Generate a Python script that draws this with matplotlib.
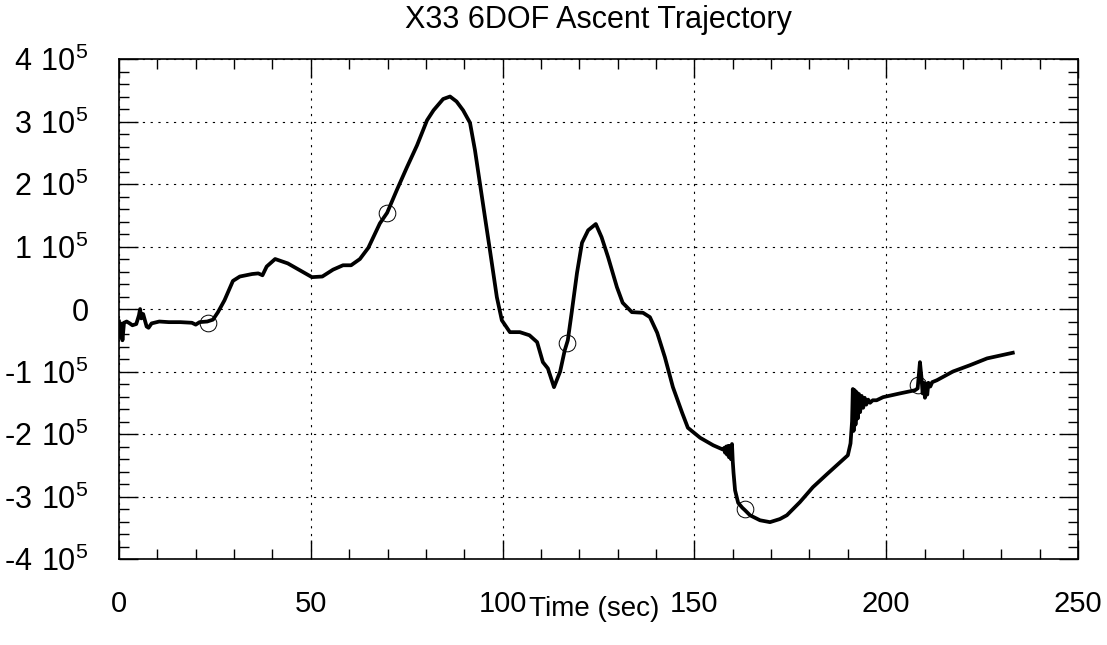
"""
X33 6DOF ascent trajectory, redrawn from a scanned plot.
"""

import numpy as np
import matplotlib
matplotlib.use('Agg')
import matplotlib.pyplot as plt
from matplotlib.ticker import MultipleLocator

plt.rcParams['font.family'] = ['Liberation Sans', 'DejaVu Sans']
plt.rcParams['mathtext.fontset'] = 'custom'
plt.rcParams['mathtext.rm'] = 'Liberation Sans'

# trajectory (time in sec, value)
time_s = [
    0.0, 0.3, 0.6, 0.9, 1.3, 2.0, 2.8, 3.5, 4.5, 5.2, 5.5, 5.8, 6.3, 7.2, 7.7,
    8.5, 10.5, 13.0, 16.0, 19.0, 20.0, 21.0, 23.0, 24.5, 25.8, 27.5, 29.7,
    31.5, 34.7, 36.3, 37.4, 38.5, 40.7, 44.0, 47.7, 50.3, 53.0, 55.8, 58.4,
    60.5, 62.8, 65.0, 68.0, 69.9, 72.4, 75.0, 77.7, 80.3, 82.0, 84.5, 86.3,
    88.0, 89.7, 91.5, 92.8, 94.1, 95.4, 96.7, 98.5, 99.8, 101.9, 104.5, 107.0,
    109.0, 110.5, 111.8, 113.4, 115.0, 116.2, 117.0, 118.0, 119.4, 120.7,
    122.3, 124.3, 125.8, 127.5, 129.8, 131.3, 133.7, 136.6, 138.4, 140.3,
    142.3, 144.4, 146.8, 148.3, 151.5, 154.9, 157.5,
    157.8, 158.0, 158.3, 158.5, 158.8, 159.0, 159.3, 159.5, 159.8, 160.0,
    160.2, 160.6, 161.4, 162.5, 163.2, 164.5, 167.1, 169.7, 172.3, 174.1,
    177.5, 180.9, 184.6, 188.0, 190.0, 190.7, 191.1,
    191.3, 191.5, 191.8, 192.0, 192.3, 192.6, 192.9, 193.2, 193.6, 194.0,
    194.4, 194.8, 195.3, 195.8, 196.5, 197.5, 199.2, 203.6, 207.5,
    208.2, 208.8, 209.2, 209.5, 209.8, 210.1, 210.4, 210.7, 211.0, 211.5,
    212.0, 213.2, 217.4, 221.8, 226.3, 230.0, 233.0,
]
value = [
    -20000, -45000, -25000, -50000, -22000, -20000, -23000, -26000, -24000,
    -10000, 0, -15000, -8000, -28000, -30000,
    -23000, -20000, -21000, -21000, -22000, -25000, -21000, -20000, -17000,
    -5000, 14000, 45000,
    52000, 56000, 57000, 54000, 68000, 80000, 73000, 60000, 51000, 52000,
    63000, 70000,
    70000, 80000, 98000, 137000, 154000, 190000, 226000, 262000, 302000,
    318000, 336000, 340000,
    332000, 318000, 298000, 254000, 200000, 147000, 94000, 19000, -18000,
    -37000, -37000, -42000,
    -53000, -85000, -95000, -125000, -100000, -66000, -50000, -6000, 58000,
    106000,
    126000, 136000, 115000, 83000, 35000, 10000, -5000, -6000, -13000, -38000,
    -77000, -125000, -166000, -190000, -206000, -218000, -225000,
    -222000, -230000, -220000, -233000, -219000, -237000, -219000, -240000,
    -216000, -244000,
    -262000, -290000, -310000, -318000, -322000, -330000, -338000, -341000,
    -336000, -330000,
    -309000, -285000, -264000, -245000, -234000, -215000, -180000,
    -128000, -195000, -130000, -185000, -133000, -175000, -136000, -165000,
    -139000, -158000,
    -142000, -153000, -145000, -150000, -146000, -146000, -141000, -135000,
    -130000,
    -127000, -85000, -110000, -135000, -118000, -142000, -120000, -137000,
    -118000, -124000,
    -117000, -114000, -100000, -90000, -79000, -74000, -70000,
]

# open circle markers along the trajectory
mark_t = [23.2, 69.9, 116.8, 163.2, 208.3]
mark_v = [-22000, 154000, -54000, -320000, -122000]

x_ticks = [0, 50, 100, 150, 200, 250]
y_ticks = [-400000, -300000, -200000, -100000, 0,
           100000, 200000, 300000, 400000]
y_tick_labels = ['-$\\mathregular{4\\ 10^{5}}$', '-$\\mathregular{3\\ 10^{5}}$',
                 '-$\\mathregular{2\\ 10^{5}}$', '-$\\mathregular{1\\ 10^{5}}$',
                 '0',
                 '$\\mathregular{1\\ 10^{5}}$', '$\\mathregular{2\\ 10^{5}}$',
                 '$\\mathregular{3\\ 10^{5}}$', '$\\mathregular{4\\ 10^{5}}$']

fig = plt.figure(figsize=(11.07, 6.45), dpi=100)
ax = fig.add_axes([0.1075, 0.1333, 0.8663, 0.7752])

ax.plot(time_s, value, color='black', lw=2.7, solid_joinstyle='round')
ax.plot(mark_t, mark_v, 'o', ms=12, mfc='none', mec='black', mew=0.7)

ax.set_xlim(0, 250)
ax.set_ylim(-400000, 400000)
ax.set_xticks(x_ticks)
ax.set_xticklabels([str(v) for v in x_ticks])
ax.set_yticks(y_ticks)
ax.set_yticklabels(y_tick_labels)
ax.xaxis.set_minor_locator(MultipleLocator(10))
ax.yaxis.set_minor_locator(MultipleLocator(20000))

ax.tick_params(which='both', direction='in', top=True, right=True,
               width=1.0, color='black')
ax.tick_params(which='major', length=14)
ax.tick_params(which='minor', length=7)
ax.tick_params(axis='x', which='major', labelsize=21, pad=22)
ax.tick_params(axis='y', which='major', labelsize=22, pad=22)

ax.grid(True, which='major', color='black', lw=0.8, linestyle=(0, (2, 5)))
for s in ax.spines.values():
    s.set_linewidth(1.2)

ax.set_title('X33 6DOF Ascent Trajectory', fontsize=22, pad=22)
ax.set_xlabel('Time (sec)', fontsize=20)
ax.xaxis.set_label_coords(0.495, -0.074)

fig.savefig('out.png', dpi=100)
